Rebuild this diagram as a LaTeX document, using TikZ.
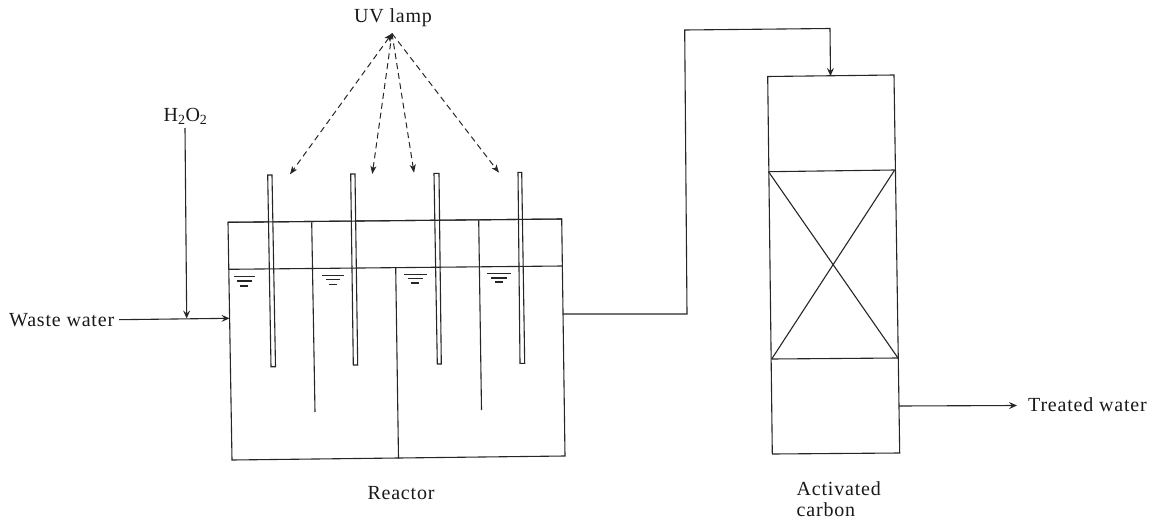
\documentclass[tikz,border=0pt]{standalone}
\usepackage{fontspec}
\setmainfont[LetterSpace=4]{Liberation Serif}
\usetikzlibrary{arrows.meta}
\tikzset{
  wall/.style={line width=1.1pt,black!85},
  flow/.style={line width=1.1pt,black!85,-{Stealth[length=8pt,width=7pt,inset=3pt]}},
  ray/.style={line width=1pt,black!85,dash pattern=on 6pt off 4pt,-{Stealth[length=8pt,width=6pt,inset=2pt]}},
  lbl/.style={inner sep=0pt,font=\fontsize{20}{21}\selectfont,align=center,text=black!90},
  lamp/.style={line width=1.1pt,black!85,fill=white}
}
\begin{document}
\begin{tikzpicture}[x=1pt,y=-1pt]
\useasboundingbox (0,0) rectangle (1151,519);
% labels
\node[lbl] (uv) at (393,18) {UV lamp};
\node[lbl] (h2o2) at (185.5,116) {H\textsubscript{2}O\textsubscript{2}};
\node[lbl,anchor=west] (waste) at (9,320) {Waste water};
\node[lbl,anchor=west] (treated) at (1028,405) {Treated water};
\node[lbl] (reactor) at (401,493) {Reactor};
\node[lbl,align=left,anchor=west] (carbon) at (796.5,499) {Activated\\carbon};
% reactor
\coordinate (rtl) at (228,222.3);
\coordinate (rtr) at (561.7,219);
\coordinate (rbr) at (565,456);
\coordinate (rbl) at (232,460);
\draw[wall] (rtl) -- (rtr) -- (rbr) -- (rbl) -- cycle;
\coordinate (wl) at (229,269.3);
\coordinate (wr) at (562.3,266);
% baffles
\coordinate (b1a) at (311.7,222.3); \coordinate (b1b) at (315,412);
\coordinate (b2a) at (395.7,267.7); \coordinate (b2b) at (398.5,458.5);
\coordinate (b3a) at (478.7,220.3); \coordinate (b3b) at (481.5,410);
\draw[wall] (b1a) -- (b1b);
\draw[wall] (b2a) -- (b2b);
\draw[wall] (b3a) -- (b3b);
% lamps
\draw[lamp] (267.7,175) -- (272,175) -- (275.5,366.7) -- (271,366.7) -- cycle;
\draw[lamp] (350.7,174) -- (355,174) -- (357.7,365) -- (353.3,365) -- cycle;
\draw[lamp] (434,173.3) -- (439,173.3) -- (441.3,364) -- (437.3,364) -- cycle;
\draw[lamp] (518,172.3) -- (521.7,172.3) -- (524.7,363.3) -- (520,363.3) -- cycle;
\draw[wall] (rtl) -- (rtr);
\draw[wall] (wl) -- (wr);
% water marks
\foreach \xa/\xb/\y/\w in {234.3/255/276.7/1.1,237.3/251.7/281/1.1,240/248/286/1.1,
  322/344/275.7/.9,325.7/340/279.7/.9,328.7/336.7/284/.9,
  403.7/426.7/274.7/1.1,407.7/422.7/278.7/1.1,411/419/283/1.1,
  487.3/511.3/273.7/1.1,491.3/507.3/278/1.1,495.3/503.3/282/1.1}
  \draw[line width=\w pt,black!85] (\xa,\y) -- (\xb,\y);
% column
\coordinate (ctl) at (767.7,76.5);
\coordinate (ctr) at (894,75);
\coordinate (cbr) at (899.7,453);
\coordinate (cbl) at (772.3,454);
\coordinate (p1l) at (768.5,171.7);
\coordinate (p1r) at (894.7,170);
\coordinate (p2l) at (771.7,359);
\coordinate (p2r) at (898,358);
\draw[wall] (ctl) -- (ctr) -- (cbr) -- (cbl) -- cycle;
\draw[wall] (p1l) -- (p1r);
\draw[wall] (p2l) -- (p2r);
\draw[wall] (p1l) -- (p2r);
\draw[wall] (p1r) -- (p2l);
% flows
\coordinate (in0) at (119,319.7);
\coordinate (in1) at (229.5,318.3);
\coordinate (hs) at (185,128);
\coordinate (he) at (186.7,318.5);
\draw[flow] (in0) -- (in1);
\draw[flow] (hs) -- (he);
\coordinate (o1) at (563,314);
\coordinate (o2) at (687,314);
\coordinate (o3) at (684.7,30);
\coordinate (o4) at (830,28.5);
\coordinate (o5) at (830.5,76);
\draw[flow] (o1) -- (o2) -- (o3) -- (o4) -- (o5);
\coordinate (t0) at (899,406);
\coordinate (t1) at (1017,405.5);
\draw[flow] (t0) -- (t1);
% rays
\coordinate (apex) at (392,33.5);
\coordinate (r1) at (290,174.3);
\coordinate (r2) at (372.3,174);
\coordinate (r3) at (414,172.7);
\coordinate (r4) at (499,172.7);
\draw[ray,{Stealth[length=8pt,width=7pt,inset=2pt]}-{Stealth[length=8pt,width=6pt,inset=2pt]}] (apex) -- (r1);
\draw[ray] (apex) -- (r2);
\draw[ray] (apex) -- (r3);
\draw[ray] (apex) -- (r4);
\end{tikzpicture}
\end{document}
